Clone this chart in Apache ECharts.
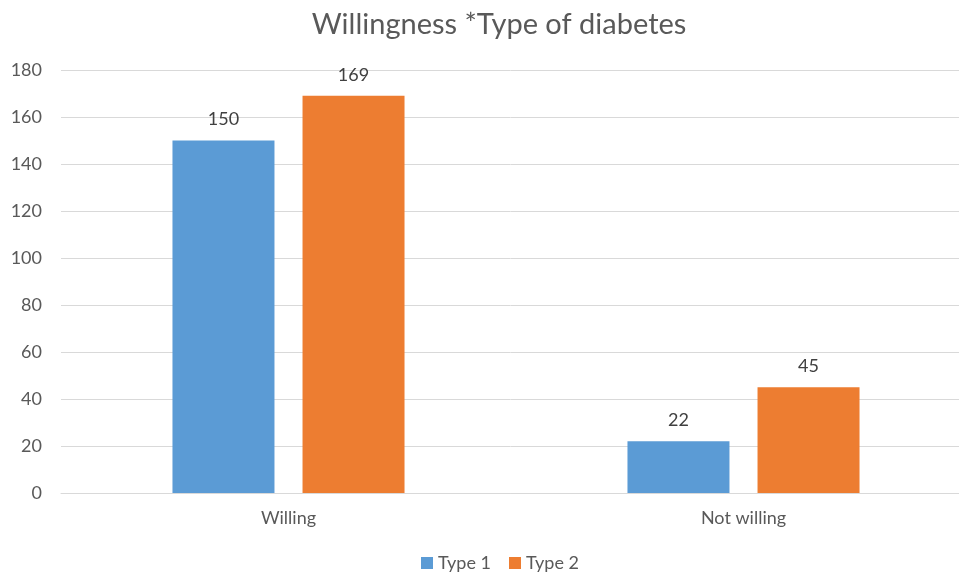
<!DOCTYPE html>
<html>
<head>
<meta charset="utf-8">
<script src="https://cdn.jsdelivr.net/npm/echarts@6/dist/echarts.min.js"></script>
<style>
  html, body { margin: 0; padding: 0; background: #fff; }
  #chart { width: 959px; height: 576px; }
</style>
</head>
<body>
<div id="chart"></div>
<script>
const categories = ["Willing", "Not willing"];
const type1 = [150, 22];
const type2 = [169, 45];
const yTicks = [0, 20, 40, 60, 80, 100, 120, 140, 160, 180];

const chart = echarts.init(document.getElementById("chart"));
const font = "Lato, 'Open Sans', sans-serif";

chart.setOption({
  animation: false,
  textStyle: { fontFamily: font },
  title: {
    text: "Willingness *Type of diabetes",
    left: 494,
    textAlign: "center",
    top: 5,
    textStyle: { fontSize: 29, fontWeight: "normal", color: "#595959", fontFamily: font },
  },
  legend: {
    bottom: -1,
    left: 416,
    itemWidth: 12,
    itemHeight: 12,
    itemGap: 18,
    icon: "rect",
    textStyle: { fontSize: 18, color: "#595959" },
  },
  grid: {
    left: 61,
    width: 910,
    top: 70,
    bottom: 83,
    outerBoundsMode: "none",
  },
  xAxis: {
    type: "category",
    data: categories,
    axisTick: { show: false },
    axisLine: { lineStyle: { color: "#d9d9d9" } },
    axisLabel: { fontSize: 18, color: "#595959", margin: 16 },
  },
  yAxis: {
    type: "value",
    min: yTicks[0],
    max: yTicks[yTicks.length - 1],
    interval: 20,
    axisLine: { show: false },
    axisTick: { show: false },
    splitLine: { lineStyle: { color: "#d9d9d9" } },
    axisLabel: { fontSize: 18, color: "#595959", margin: 19 },
  },
  series: [
    {
      name: "Type 1",
      type: "bar",
      data: type1,
      barWidth: 102,
      barGap: "27.5%",
      itemStyle: { color: "#5b9bd5" },
      label: { show: true, position: "top", fontSize: 18, color: "#404040", distance: 12 },
    },
    {
      name: "Type 2",
      type: "bar",
      data: type2,
      barWidth: 102,
      itemStyle: { color: "#ed7d31" },
      label: { show: true, position: "top", fontSize: 18, color: "#404040", distance: 12 },
    },
  ],
});
</script>
</body>
</html>
